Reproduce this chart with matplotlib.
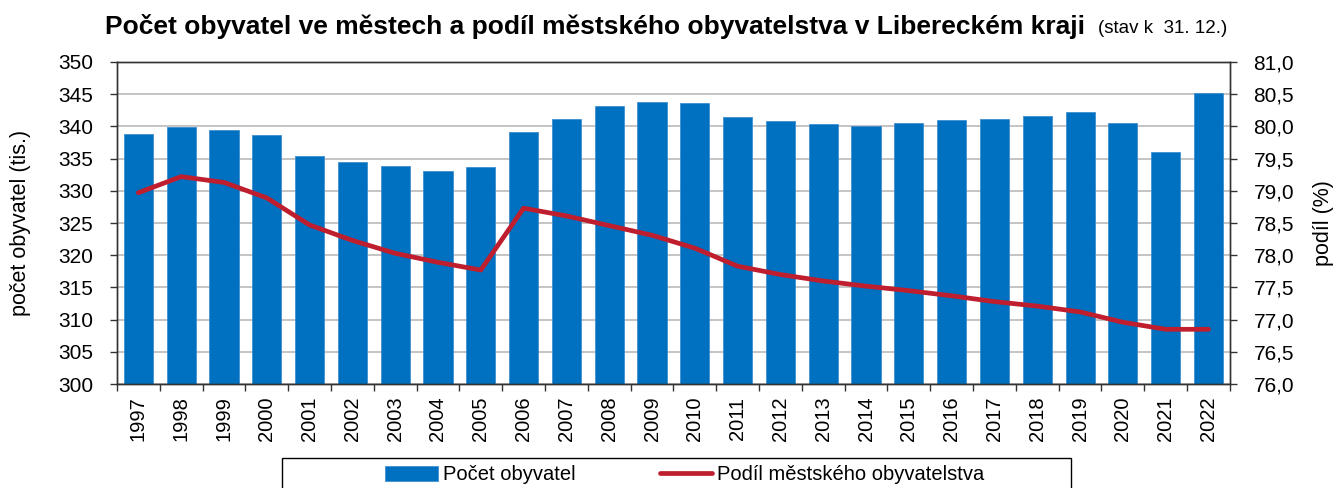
import matplotlib.pyplot as plt
import numpy as np
from matplotlib.patches import Rectangle
from matplotlib.ticker import FuncFormatter, MultipleLocator

plt.rcParams['font.family'] = ['Liberation Sans', 'DejaVu Sans']

years = list(range(1997, 2023))
obyvatel = [338.8, 339.9, 339.5, 338.6, 335.4, 334.4, 333.8, 333.1, 333.7, 339.2,
            341.1, 343.1, 343.8, 343.6, 341.4, 340.8, 340.4, 340.1, 340.6, 341.0,
            341.1, 341.6, 342.2, 340.5, 336.1, 345.2]
podil = [78.97, 79.22, 79.13, 78.89, 78.47, 78.23, 78.03, 77.89, 77.77, 78.73,
         78.61, 78.46, 78.31, 78.11, 77.83, 77.70, 77.60, 77.52, 77.45, 77.37,
         77.28, 77.21, 77.12, 76.96, 76.85, 76.85]

blue = '#0070C0'
red = '#BE1E2D'

fig = plt.figure(figsize=(13.38, 4.88), dpi=100)
ax = fig.add_axes([0.0874, 0.213, 0.8318, 0.66])
ax2 = ax.twinx()

x = np.arange(len(years))
bars = ax.bar(x, obyvatel, width=0.68, color=blue, edgecolor='#3E8FD0',
              linewidth=0.6, zorder=2, label='Počet obyvatel')
line, = ax2.plot(x, podil, color=red, linewidth=3.4, solid_joinstyle='round',
                 solid_capstyle='round', label='Podíl městského obyvatelstva')

ax.set_ylim(300, 350)
ax.set_xlim(-0.5, len(years) - 0.5)
ax.yaxis.set_major_locator(MultipleLocator(5))
ax.grid(axis='y', color='#BFBFBF', linewidth=1.3, zorder=0)
ax.set_axisbelow(True)

ax2.set_ylim(76, 81)
ax2.yaxis.set_major_locator(MultipleLocator(0.5))
ax2.yaxis.set_major_formatter(FuncFormatter(lambda v, p: f'{v:.1f}'.replace('.', ',')))

ax.set_xticks(x)
ax.set_xticklabels([str(y) for y in years], rotation=90)
ax.set_xticks(np.arange(-0.5, len(years)), minor=True)
ax.tick_params(axis='x', which='major', length=0, labelsize=14.5, pad=9)
ax.tick_params(axis='x', which='minor', length=5, width=1, color='#333333')
ax.tick_params(axis='y', labelsize=15, length=5, width=1, color='#333333', pad=12)
ax2.tick_params(axis='y', labelsize=15, length=5, width=1, color='#333333', pad=12)

for a in (ax, ax2):
    for s in a.spines.values():
        s.set_color('#333333')
        s.set_linewidth(1.0)

ax.set_ylabel('počet obyvatel (tis.)', fontsize=15.5)
ax2.set_ylabel('podíl (%)', fontsize=15.5)
ax.yaxis.set_label_coords(-0.0773, 0.5)
ax2.yaxis.set_label_coords(1.0746, 0.5)

fig.text(0.0785, 0.945, 'Počet obyvatel ve městech a podíl městského obyvatelstva v Libereckém kraji',
         fontsize=19, fontweight='bold', ha='left', va='center')
fig.text(0.821, 0.941, '(stav k  31. 12.)', fontsize=13.5, ha='left', va='center')

# legend frame (box runs off the bottom edge as in the original)
fig.patches.append(Rectangle((282 / 1338, -0.05), 789 / 1338, 0.05 + 30 / 488,
                             transform=fig.transFigure, facecolor='white',
                             edgecolor='black', linewidth=1.0))
leg = fig.legend(handles=[bars, line], loc='center',
                 bbox_to_anchor=(685 / 1338, 1 - 475 / 488), ncol=2,
                 fontsize=14.5, frameon=False, handlelength=2.6,
                 handletextpad=0.25, columnspacing=4.2, borderaxespad=0)

fig.savefig('out.png', dpi=100)
